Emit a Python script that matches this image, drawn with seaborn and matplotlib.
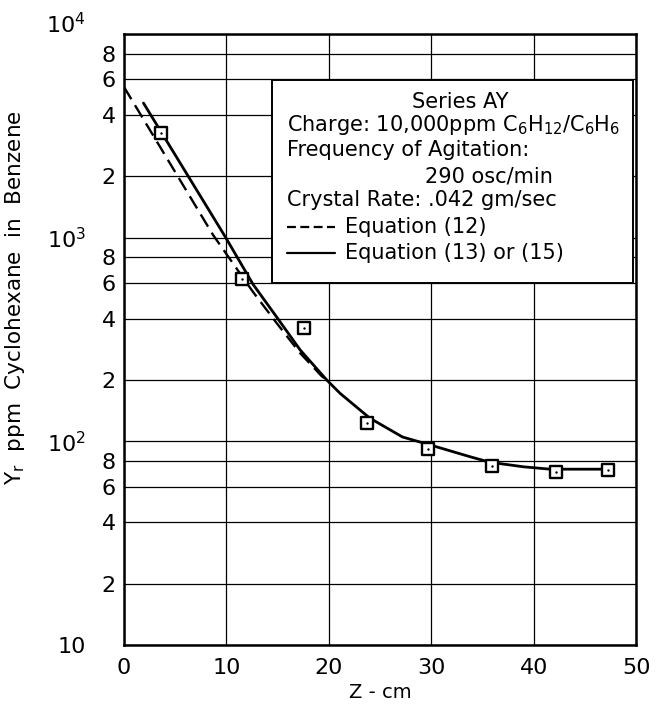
import numpy as np
import pandas as pd
import matplotlib
matplotlib.use("Agg")
import matplotlib.pyplot as plt
import matplotlib.transforms as mtransforms
from matplotlib.patches import Rectangle
import seaborn as sns

# ---- data ----
obs_z = [3.6, 11.5, 17.6, 23.7, 29.7, 35.9, 42.2, 47.3]
obs_y = [3260, 627, 360, 123, 92, 76, 71, 72]

eq13_z = [1.9, 9.9, 12.6, 14.9, 17.2, 19.8, 21.1, 24.0, 27.2, 29.9, 33.8, 35.7, 39.0, 41.6, 47.2]
eq13_y = [4580, 1007, 590, 408, 281, 200, 172, 130, 105, 96, 84, 79, 75, 73, 73]

eq12_z = [0.0, 8.7, 12.6, 14.9, 17.2, 19.3, 19.8]
eq12_y = [5490, 1030, 541, 381, 271, 209, 200]

ytick_vals = [10, 20, 40, 60, 80, 100, 200, 400, 600, 800, 1000, 2000, 4000, 6000, 8000, 10000]
ytick_labels = ["10", "2", "4", "6", "8", r"$10^2$", "2", "4", "6", "8",
                r"$10^3$", "2", "4", "6", "8", r"$10^4$"]
xtick_vals = [0, 10, 20, 30, 40, 50]

box_lines = [
    "Series AY",
    r"Charge: 10,000ppm C$_6$H$_{12}$/C$_6$H$_6$",
    "Frequency of Agitation:",
    "290 osc/min",
    "Crystal Rate: .042 gm/sec",
    "Equation (12)",
    "Equation (13) or (15)",
]

sns.set_theme(style="white")
plt.rcParams["font.family"] = ["DejaVu Sans"]
plt.rcParams["mathtext.default"] = "regular"
plt.rcParams["text.color"] = "black"
plt.rcParams["axes.labelcolor"] = "black"

fig = plt.figure(figsize=(6.59, 7.11), dpi=100)
ax = fig.add_axes([0.1882, 0.0928, 0.777, 0.8594])

df13 = pd.DataFrame({"z": eq13_z, "y": eq13_y})
df12 = pd.DataFrame({"z": eq12_z, "y": eq12_y})
dfo = pd.DataFrame({"z": obs_z, "y": obs_y})

sns.lineplot(data=df13, x="z", y="y", ax=ax, color="black", lw=2.0, zorder=3, sort=False)
sns.lineplot(data=df12, x="z", y="y", ax=ax, color="black", lw=1.7, zorder=3, sort=False,
             dashes=False, linestyle=(0, (6, 3)))
ax.set_yscale("log")
ax.set_xlim(0, 50)
ax.set_ylim(10, 10000)

sns.scatterplot(data=dfo, x="z", y="y", ax=ax, marker="s", s=80, facecolor="white",
                edgecolor="black", linewidth=1.7, zorder=5)
sns.scatterplot(data=dfo, x="z", y="y", ax=ax, marker="o", s=3, color="black",
                linewidth=0, zorder=6)

# grid
ax.set_yticks(ytick_vals)
ax.set_yticklabels(ytick_labels)
ax.yaxis.set_minor_locator(matplotlib.ticker.NullLocator())
ax.set_xticks(xtick_vals)
ax.set_xticklabels([str(v) for v in xtick_vals])
ax.grid(True, which="major", color="black", lw=0.9)
ax.set_axisbelow(True)
ax.tick_params(axis="both", length=0, labelsize=16, colors="black")
ax.tick_params(axis="y", pad=6)
ax.tick_params(axis="x", pad=9)
for s in ax.spines.values():
    s.set_color("black")
    s.set_linewidth(1.8)

# shift decade labels left
for lab, v in zip(ax.get_yticklabels(), ytick_vals):
    if v in (10, 100, 1000, 10000):
        dy = 11 if v == 10000 else 0
        lab.set_transform(lab.get_transform() +
                          mtransforms.ScaledTranslation(-30 / 100, dy / 100, fig.dpi_scale_trans))

ax.set_xlabel("Z - cm", fontsize=14, labelpad=4)
ax.set_ylabel(r"Y$_r$  ppm  Cyclohexane  in  Benzene", fontsize=15.5)
ax.yaxis.set_label_coords(-0.19, 0.568)

# legend box
rect = Rectangle((0.289, 0.592), 0.705, 0.333, transform=ax.transAxes,
                 facecolor="white", edgecolor="black", lw=1.4, zorder=4)
ax.add_patch(rect)
fs = 15
ax.text(0.656, 0.889, box_lines[0], transform=ax.transAxes, ha="center", va="center", fontsize=fs, zorder=7)
ax.text(0.318, 0.851, box_lines[1], transform=ax.transAxes, ha="left", va="center", fontsize=fs, zorder=7)
ax.text(0.318, 0.810, box_lines[2], transform=ax.transAxes, ha="left", va="center", fontsize=fs, zorder=7)
ax.text(0.588, 0.766, box_lines[3], transform=ax.transAxes, ha="left", va="center", fontsize=fs, zorder=7)
ax.text(0.318, 0.728, box_lines[4], transform=ax.transAxes, ha="left", va="center", fontsize=fs, zorder=7)
ax.plot([0.318, 0.412], [0.684, 0.684], transform=ax.transAxes, color="black", lw=1.6,
        linestyle=(0, (4, 2)), zorder=7)
ax.text(0.432, 0.684, box_lines[5], transform=ax.transAxes, ha="left", va="center", fontsize=fs, zorder=7)
ax.plot([0.318, 0.412], [0.642, 0.642], transform=ax.transAxes, color="black", lw=1.6, zorder=7)
ax.text(0.432, 0.642, box_lines[6], transform=ax.transAxes, ha="left", va="center", fontsize=fs, zorder=7)

fig.savefig("out.png", dpi=100)
